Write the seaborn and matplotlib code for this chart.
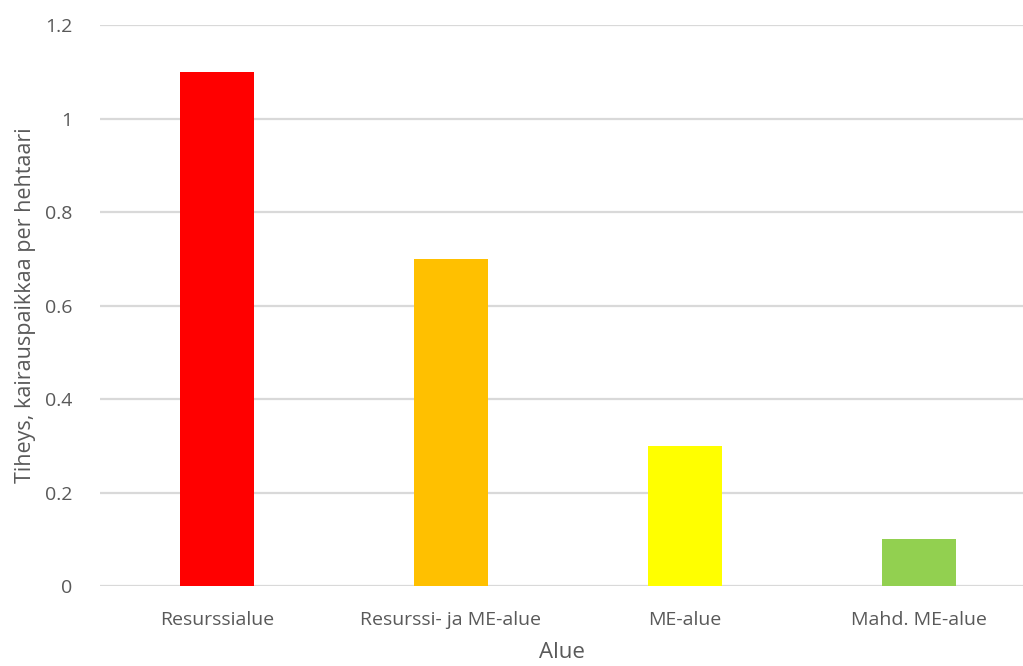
import matplotlib
matplotlib.use('Agg')
import matplotlib.pyplot as plt
import seaborn as sns
import pandas as pd

# Data
alueet = ['Resurssialue', 'Resurssi- ja ME-alue', 'ME-alue', 'Mahd. ME-alue']
tiheys = [1.1, 0.7, 0.3, 0.1]
varit = ['#FF0000', '#FFC000', '#FFFF00', '#92D050']

df = pd.DataFrame({'Alue': alueet, 'Tiheys': tiheys})

sns.set_style('white')
plt.rcParams['font.family'] = ['Open Sans', 'DejaVu Sans']
tekstivari = '#595959'

fig = plt.figure(figsize=(10.23, 6.66), dpi=100)
ax = fig.add_axes([100 / 1023, 80 / 666, 923 / 1023, 561 / 666])

sns.barplot(data=df, x='Alue', y='Tiheys', hue='Alue', palette=varit,
            width=0.316, legend=False, ax=ax, saturation=1, linewidth=0)

ax.set_ylim(0, 1.2)
ax.set_xlim(-0.5, 923 / 234 - 0.5)
ax.set_yticks([0, 0.2, 0.4, 0.6, 0.8, 1.0, 1.2])
ax.set_yticklabels(['0', '0.2', '0.4', '0.6', '0.8', '1', '1.2'])
ax.yaxis.grid(True, color='#D9D9D9', linewidth=1.6)
ax.set_axisbelow(True)
for s in ax.spines.values():
    s.set_visible(False)
ax.tick_params(axis='both', length=0, labelsize=14, colors=tekstivari)
ax.tick_params(axis='y', pad=20)
ax.tick_params(axis='x', pad=18)

ax.set_xlabel('Alue', fontsize=16, color=tekstivari, labelpad=9)
ax.set_ylabel('Tiheys, kairauspaikkaa per hehtaari', fontsize=15.5, color=tekstivari, labelpad=6)

fig.savefig('out.png', dpi=100)
